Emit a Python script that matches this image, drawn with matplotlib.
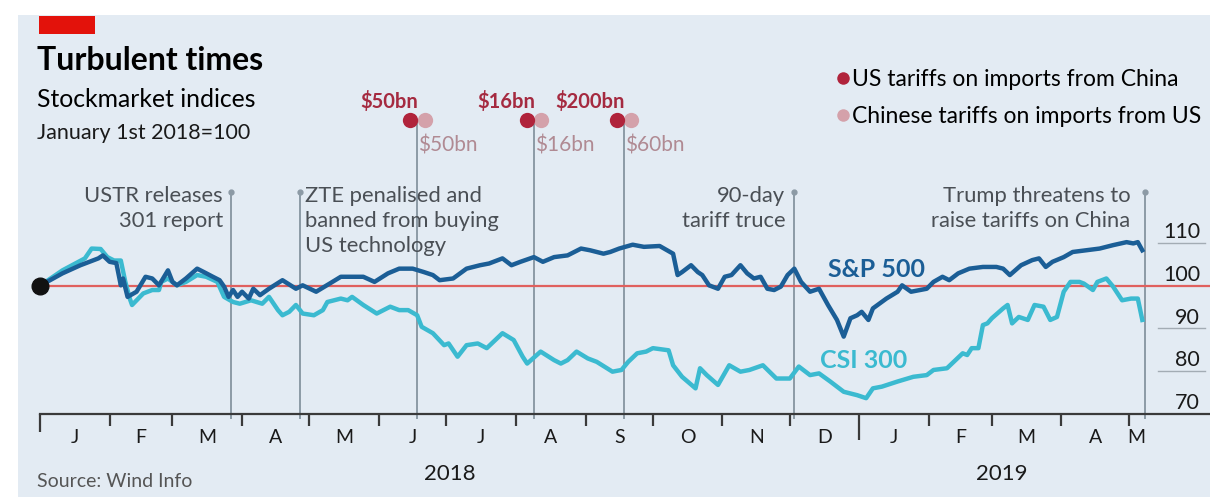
import numpy as np
import matplotlib
matplotlib.use("Agg")
import matplotlib.pyplot as plt
from matplotlib.patches import Rectangle
from matplotlib.transforms import blended_transform_factory, offset_copy

W, H = 1210, 497
BASE = np.datetime64('2018-01-01')

# ---------------- data (days since 1 Jan 2018, index 1 Jan 2018 = 100) -----
sp_days = [0, 10, 18, 26, 28, 31, 34, 36, 37, 39, 43, 47, 50, 53, 57, 59, 61, 65,
           70, 73, 77, 80, 82, 84, 86, 88, 90, 93, 95, 98, 102, 108, 114, 117,
           123, 129, 134, 139, 144, 149, 155, 160, 166, 171, 175, 178, 184, 190,
           196, 200, 206, 210, 214, 220, 224, 229, 235, 241, 245, 251, 254, 258,
           264, 269, 276, 282, 284, 286, 290, 293, 295, 298, 302, 305, 308, 312,
           315, 318, 321, 324, 327, 330, 333, 336, 339, 343, 347, 351, 355, 358,
           361, 364, 366, 369, 371, 377, 382, 384, 388, 392, 395, 398, 402, 405,
           409, 414, 420, 426, 429, 432, 437, 442, 445, 448, 451, 456, 460, 466,
           472, 478, 484, 487, 489, 491]
sp_vals = [100.0, 102.9, 104.8, 106.4, 107.1, 105.6, 105.3, 100.1, 101.7, 97.4,
           98.6, 102.1, 101.7, 100.1, 103.6, 100.9, 100.1, 101.7, 104.0, 103.2,
           102.1, 101.3, 99.8, 97.4, 99.0, 97.4, 98.6, 97.0, 99.3, 97.8, 99.3,
           101.3, 99.3, 100.1, 98.6, 100.5, 102.1, 102.1, 102.1, 100.9, 102.9,
           104.0, 104.0, 103.2, 102.5, 101.3, 101.7, 104.0, 104.8, 105.2, 106.4,
           104.8, 105.6, 106.7, 105.6, 106.7, 107.1, 108.7, 108.3, 107.5, 107.9,
           108.7, 109.6, 109.1, 109.3, 107.5, 102.5, 103.2, 104.8, 103.2, 102.5,
           100.1, 99.3, 102.1, 102.5, 104.8, 102.9, 101.7, 102.1, 99.3, 99.0,
           99.8, 102.5, 104.0, 100.9, 98.6, 99.3, 95.5, 92.0, 88.1, 92.4, 93.1,
           93.9, 92.0, 94.7, 97.0, 98.6, 100.1, 98.6, 99.0, 99.3, 100.9, 102.1,
           101.3, 102.9, 104.0, 104.4, 104.4, 104.0, 102.5, 104.8, 106.0, 106.4,
           104.4, 105.6, 106.7, 107.9, 108.3, 108.7, 109.5, 110.2, 109.9, 110.2,
           108.3]

csi_days = [0, 10, 20, 23, 27, 30, 33, 36, 38, 40, 41, 46, 50, 53, 54, 57, 61, 65,
            70, 74, 79, 82, 86, 89, 94, 99, 102, 106, 108, 111, 114, 117, 122,
            126, 128, 134, 137, 139, 144, 150, 156, 160, 164, 168, 170, 175, 180,
            182, 186, 190, 195, 199, 206, 211, 215, 217, 223, 229, 232, 235, 239,
            244, 248, 255, 259, 262, 266, 270, 273, 280, 282, 286, 292, 294, 297,
            302, 307, 312, 316, 322, 328, 334, 338, 343, 347, 352, 358, 364, 368,
            371, 375, 382, 389, 395, 398, 404, 407, 411, 413, 415, 418, 420, 422,
            424, 429, 431, 433, 436, 440, 443, 447, 450, 453, 456, 459, 463, 465,
            469, 471, 475, 478, 482, 486, 489, 491]
csi_vals = [100.0, 103.6, 106.4, 108.7, 108.6, 106.7, 105.9, 105.9, 100.9, 97.0,
            95.5, 98.2, 99.0, 99.0, 100.9, 101.7, 100.1, 100.9, 102.5, 102.1,
            100.9, 97.4, 96.2, 95.8, 96.6, 95.8, 97.4, 94.3, 93.1, 93.9, 95.5,
            93.5, 93.1, 94.3, 96.2, 97.0, 96.6, 97.4, 95.5, 93.5, 95.1, 94.3,
            94.3, 93.1, 90.4, 88.9, 86.1, 86.5, 83.4, 86.1, 86.5, 85.4, 88.9,
            87.3, 83.4, 81.8, 84.6, 82.6, 81.8, 82.6, 84.6, 83.0, 82.2, 79.9,
            80.3, 82.2, 84.2, 84.6, 85.4, 84.9, 81.4, 78.7, 76.0, 80.7, 79.1,
            76.8, 81.4, 79.9, 80.3, 81.4, 78.3, 78.3, 81.1, 79.1, 79.5, 77.6,
            75.2, 74.4, 73.7, 76.0, 76.4, 77.6, 78.7, 79.1, 80.3, 80.7, 82.2,
            84.2, 83.8, 85.4, 85.4, 90.8, 91.2, 92.4, 94.7, 95.5, 91.2, 92.7,
            92.0, 95.5, 95.1, 92.0, 92.7, 98.6, 100.9, 100.9, 100.5, 99.0, 100.9,
            101.7, 99.8, 96.6, 97.0, 97.0, 92.0]

note_dates = ['2018-03-27', '2018-04-27', '2018-12-03', '2019-05-08']
note_texts = [['USTR releases', '301 report'],
              ['ZTE penalised and', 'banned from buying', 'US technology'],
              ['90-day', 'tariff truce'],
              ['Trump threatens to', 'raise tariffs on China']]
tariff_dates = ['2018-06-18', '2018-08-09', '2018-09-18']
us_tariffs = ['$50bn', '$16bn', '$200bn']
cn_tariffs = ['$50bn', '$16bn', '$60bn']
month_letters = list('JFMAMJJASOND') + list('JFMAM')
years = ['2018', '2019']
yticks = [70, 80, 90, 100, 110]

# ---------------- styling -------------------------------------------------
BG = '#e3ebf3'
SP_C = '#1b5e96'
CSI_C = '#3bbad0'
REF_C = '#e0605e'
VL_C = '#8c9aa5'
RED_DOT = '#b0233b'
PINK_DOT = '#d4a1aa'
RED_TXT = '#a52a40'
PINK_TXT = '#b08a93'
NOTE_C = '#4a4f55'
LATO = ['Lato', 'DejaVu Sans']

def days(d):
    return int((np.datetime64(d, 'D') - BASE).astype(int))

def fy(py):
    return 1 - py / H

fig = plt.figure(figsize=(W / 100, H / 100), dpi=100, facecolor='white')
fig.add_artist(Rectangle((18 / W, 0), 1 - 18 / W, 1 - 15 / H, transform=fig.transFigure,
                         facecolor=BG, edgecolor='none', zorder=-10))
fig.add_artist(Rectangle((39 / W, fy(34)), 56 / W, 18 / H, transform=fig.transFigure,
                         facecolor='#e3120b', edgecolor='none', zorder=-5))

PX_PER_DAY = 2.245
PX_PER_UNIT = 4.275
ax = fig.add_axes([40 / W, (H - 414) / H, 1170 / W, 314 / H])
ax.set_xlim(0, 1170 / PX_PER_DAY)
ax.set_ylim(70, 70 + 314 / PX_PER_UNIT)
ax.axis('off')

bx = blended_transform_factory(ax.transData, fig.transFigure)
by = blended_transform_factory(fig.transFigure, ax.transData)

def off(tr, dx=0, dy=0):
    return offset_copy(tr, fig=fig, x=dx, y=dy, units='dots')

# reference line and axis
ax.axhline(100, color=REF_C, lw=1.6, zorder=2)
ax.axhline(70, color='#3a3a3a', lw=1.6, zorder=3, clip_on=False)

# right-hand gridlines and labels
for v in yticks:
    if v not in (70, 100):
        ax.plot([1158 / W, 1205 / W], [v, v], transform=by, color='#a3acb4', lw=1.0,
                clip_on=False, zorder=1)
    ax.text(1200 / W, v, str(v), transform=off(by, 0, 5), ha='right', va='baseline',
            fontsize=15.5, family=LATO, color='#1a1a1a')

# month ticks and labels
months = np.arange('2018-01', '2019-06', dtype='datetime64[M]')
mdays = [int((m.astype('datetime64[D]') - BASE).astype(int)) for m in months]
end_day = days(note_dates[-1])
for i, (d, lab) in enumerate(zip(mdays, month_letters)):
    if months[i].astype(int) % 12 == 0:
        bot = 432 if i == 0 else 440
    else:
        bot = 426
    ax.plot([d, d], [fy(414), fy(bot)], transform=bx, color='#3a3a3a', lw=1.6,
            clip_on=False, solid_capstyle='butt')
    nxt = mdays[i + 1] if i + 1 < len(mdays) else end_day
    ax.text((d + nxt) / 2, fy(443), lab, transform=bx, ha='center', va='baseline',
            fontsize=14, family=LATO, color='#1a1a1a')
ax.text((mdays[0] + mdays[12]) / 2, fy(480), years[0], transform=bx, ha='center',
        va='baseline', fontsize=16, family=LATO, color='#1a1a1a')
ax.text((mdays[12] + end_day) / 2, fy(480), years[1], transform=bx, ha='center',
        va='baseline', fontsize=16, family=LATO, color='#1a1a1a')

# event lines with notes
note_align = [('right', -8), ('left', 5), ('right', -9), ('right', -14)]
for dstr, lines, (ha, dx) in zip(note_dates, note_texts, note_align):
    d = days(dstr)
    ax.plot([d, d], [fy(192), fy(418)], transform=bx, color=VL_C, lw=1.4,
            clip_on=False, zorder=1)
    ax.plot([d], [fy(192)], 'o', ms=3.5, color=VL_C, transform=bx, clip_on=False, zorder=1)
    for k, ln in enumerate(lines):
        ax.text(d, fy(202 + 25 * k), ln, transform=off(bx, dx, 0), ha=ha, va='baseline',
                fontsize=15.8, family=LATO, color=NOTE_C)

# tariff lines with dots
for dstr, us, cn in zip(tariff_dates, us_tariffs, cn_tariffs):
    d = days(dstr)
    ax.plot([d, d], [fy(120), fy(418)], transform=bx, color=VL_C, lw=1.4,
            clip_on=False, zorder=1)
    ax.plot([d], [fy(120)], 'o', ms=11, color=PINK_DOT, mec='none',
            transform=off(bx, 7.5, 0), clip_on=False, zorder=4)
    ax.plot([d], [fy(120)], 'o', ms=11, color=RED_DOT, mec='none',
            transform=off(bx, -7, 0), clip_on=False, zorder=5)
    ax.text(d, fy(108), us, transform=off(bx, 1, 0), ha='right', va='baseline',
            fontsize=14.5, fontweight='bold', family=LATO, color=RED_TXT, parse_math=False)
    ax.text(d, fy(152), cn, transform=off(bx, 1, 0), ha='left', va='baseline',
            fontsize=15, family=LATO, color=PINK_TXT, parse_math=False)

# series
ax.plot(csi_days, csi_vals, color=CSI_C, lw=3.2, zorder=6, solid_joinstyle='round')
ax.plot(sp_days, sp_vals, color=SP_C, lw=3.2, zorder=7, solid_joinstyle='round')
ax.plot([0], [100], 'o', ms=12, color='#111111', zorder=9, clip_on=False)

fig.text(828 / W, fy(277), 'S&P 500', fontsize=18, fontweight='bold', family=LATO,
         color=SP_C, va='baseline')
fig.text(820 / W, fy(368), 'CSI 300', fontsize=18, fontweight='bold', family=LATO,
         color=CSI_C, va='baseline')

# titles
fig.text(37 / W, fy(70), 'Turbulent times', fontsize=23, fontweight='bold', family=LATO,
         color='black', va='baseline')
fig.text(37 / W, fy(107), 'Stockmarket indices', fontsize=17.8, family=LATO,
         color='black', va='baseline')
fig.text(37 / W, fy(139), 'January 1st 2018=100', fontsize=15.5,
         family=LATO, color='#1a1a1a', va='baseline')

# legend
fig.add_artist(plt.Line2D([843 / W], [fy(78)], marker='o', ms=9, color=RED_DOT,
                          mec='none', transform=fig.transFigure))
fig.add_artist(plt.Line2D([843 / W], [fy(115)], marker='o', ms=9, color=PINK_DOT,
                          mec='none', transform=fig.transFigure))
fig.text(852 / W, fy(86), 'US tariffs on imports from China', fontsize=16.5, family=LATO,
         color='black', va='baseline')
fig.text(852 / W, fy(123), 'Chinese tariffs on imports from US', fontsize=16.5,
         family=LATO, color='black', va='baseline')

fig.text(37 / W, fy(487), 'Source: Wind Info', fontsize=14, family=LATO,
         color='#555555', va='baseline')

fig.savefig('out.png', dpi=100, facecolor='white')
